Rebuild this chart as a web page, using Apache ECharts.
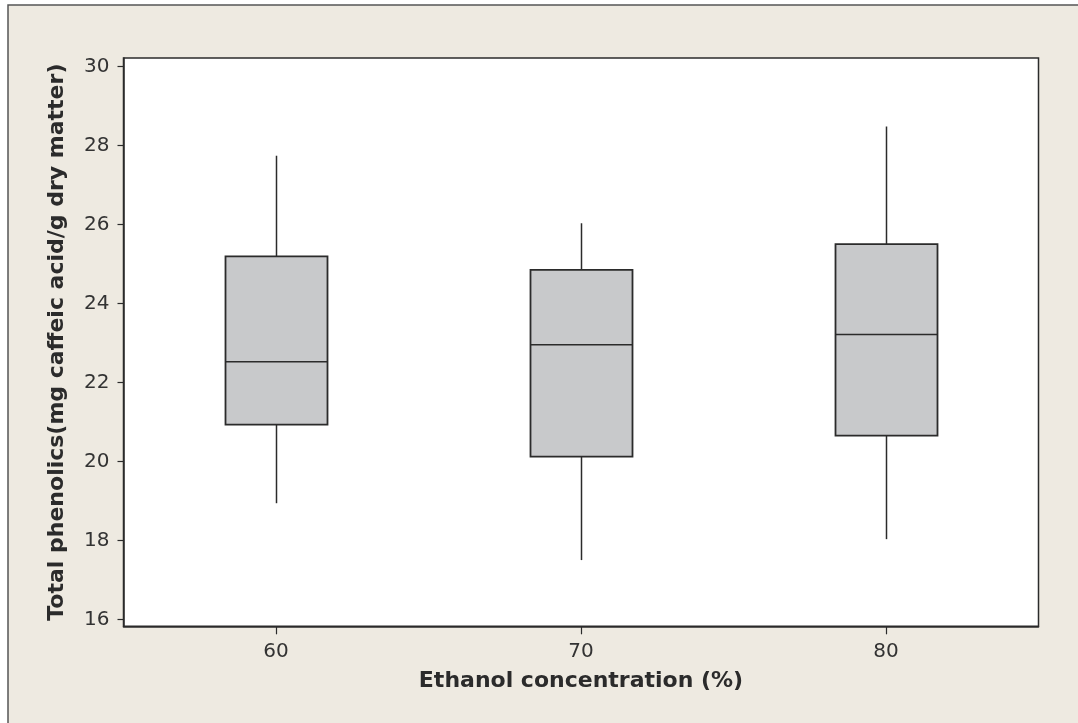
<!DOCTYPE html>
<html>
<head>
<meta charset="utf-8">
<title>Total phenolics by ethanol concentration</title>
<script src="https://cdn.jsdelivr.net/npm/echarts@6/dist/echarts.min.js"></script>
<style>
  html, body { margin: 0; padding: 0; background: #ffffff; }
  #chart { width: 1078px; height: 723px; }
</style>
</head>
<body>
<div id="chart"></div>
<script>
// Ethanol concentration levels (%) and five-number summaries of total phenolics
const concentrations = [60, 70, 80];
const whiskerLow  = [18.94, 17.50, 18.03];
const q1          = [20.93, 20.12, 20.65];
const median      = [22.52, 22.95, 23.21];
const q3          = [25.19, 24.85, 25.50];
const whiskerHigh = [27.74, 26.03, 28.48];

const yTicks = [16, 18, 20, 22, 24, 26, 28, 30];
const xTicks = [60, 70, 80];

const boxData = concentrations.map((c, i) =>
  [c, whiskerLow[i], q1[i], median[i], q3[i], whiskerHigh[i]]);

const INK = '#2b2b2b';
const BOX_HALF_WIDTH = 51;

function renderBox(params, api) {
  const x = api.value(0);
  const pLow = api.coord([x, api.value(1)]);
  const pQ1 = api.coord([x, api.value(2)]);
  const pMed = api.coord([x, api.value(3)]);
  const pQ3 = api.coord([x, api.value(4)]);
  const pHigh = api.coord([x, api.value(5)]);
  const cx = Math.round(pMed[0]) + 0.5;
  const lineStyle = { stroke: INK, lineWidth: 1.5 };
  return {
    type: 'group',
    children: [
      { type: 'line', shape: { x1: cx, y1: pHigh[1], x2: cx, y2: pQ3[1] }, style: lineStyle },
      { type: 'line', shape: { x1: cx, y1: pQ1[1], x2: cx, y2: pLow[1] }, style: lineStyle },
      {
        type: 'rect',
        shape: { x: cx - BOX_HALF_WIDTH, y: pQ3[1], width: BOX_HALF_WIDTH * 2, height: pQ1[1] - pQ3[1] },
        style: { fill: '#c8c9cb', stroke: INK, lineWidth: 1.8 }
      },
      { type: 'line', shape: { x1: cx - BOX_HALF_WIDTH, y1: pMed[1], x2: cx + BOX_HALF_WIDTH, y2: pMed[1] }, style: lineStyle }
    ]
  };
}

const chart = echarts.init(document.getElementById('chart'), null, { renderer: 'canvas' });

chart.setOption({
  animation: false,
  backgroundColor: '#ffffff',
  graphic: [{
    type: 'rect',
    z: -10,
    shape: { x: 8, y: 5, width: 1200, height: 900 },
    style: { fill: '#eeeae1', stroke: '#555555', lineWidth: 1.5 }
  }],
  grid: {
    left: 123.5,
    right: 39.5,
    top: 58,
    bottom: 96.7,
    show: true,
    backgroundColor: '#ffffff',
    borderColor: INK,
    borderWidth: 1.5,
    outerBoundsMode: 'none'
  },
  xAxis: {
    type: 'value',
    min: 55,
    max: 85,
    name: 'Ethanol concentration (%)',
    nameLocation: 'middle',
    nameGap: 44,
    nameTextStyle: { fontFamily: 'DejaVu Sans', fontWeight: 'bold', fontSize: 22, color: INK },
    splitLine: { show: false },
    axisLine: { show: true, onZero: false, lineStyle: { color: INK, width: 1.5 } },
    axisTick: { show: true, length: 8, customValues: xTicks, lineStyle: { color: INK, width: 1.2 } },
    axisLabel: { customValues: xTicks, margin: 15, fontFamily: 'DejaVu Sans', fontSize: 20, color: '#333333' }
  },
  yAxis: {
    type: 'value',
    min: 15.823,
    max: 30.215,
    name: 'Total phenolics(mg caffeic acid/g dry matter)',
    nameLocation: 'middle',
    nameGap: 55,
    nameTextStyle: { fontFamily: 'DejaVu Sans', fontWeight: 'bold', fontSize: 22, color: INK },
    splitLine: { show: false },
    axisLine: { show: true, onZero: false, lineStyle: { color: INK, width: 1.5 } },
    axisTick: { show: true, length: 6, customValues: yTicks, lineStyle: { color: INK, width: 1.2 } },
    axisLabel: { customValues: yTicks, margin: 14, fontFamily: 'DejaVu Sans', fontSize: 20, color: '#333333' }
  },
  series: [{
    type: 'custom',
    renderItem: renderBox,
    encode: { x: 0, y: [1, 2, 3, 4, 5] },
    data: boxData,
    clip: false
  }]
});
</script>
</body>
</html>
